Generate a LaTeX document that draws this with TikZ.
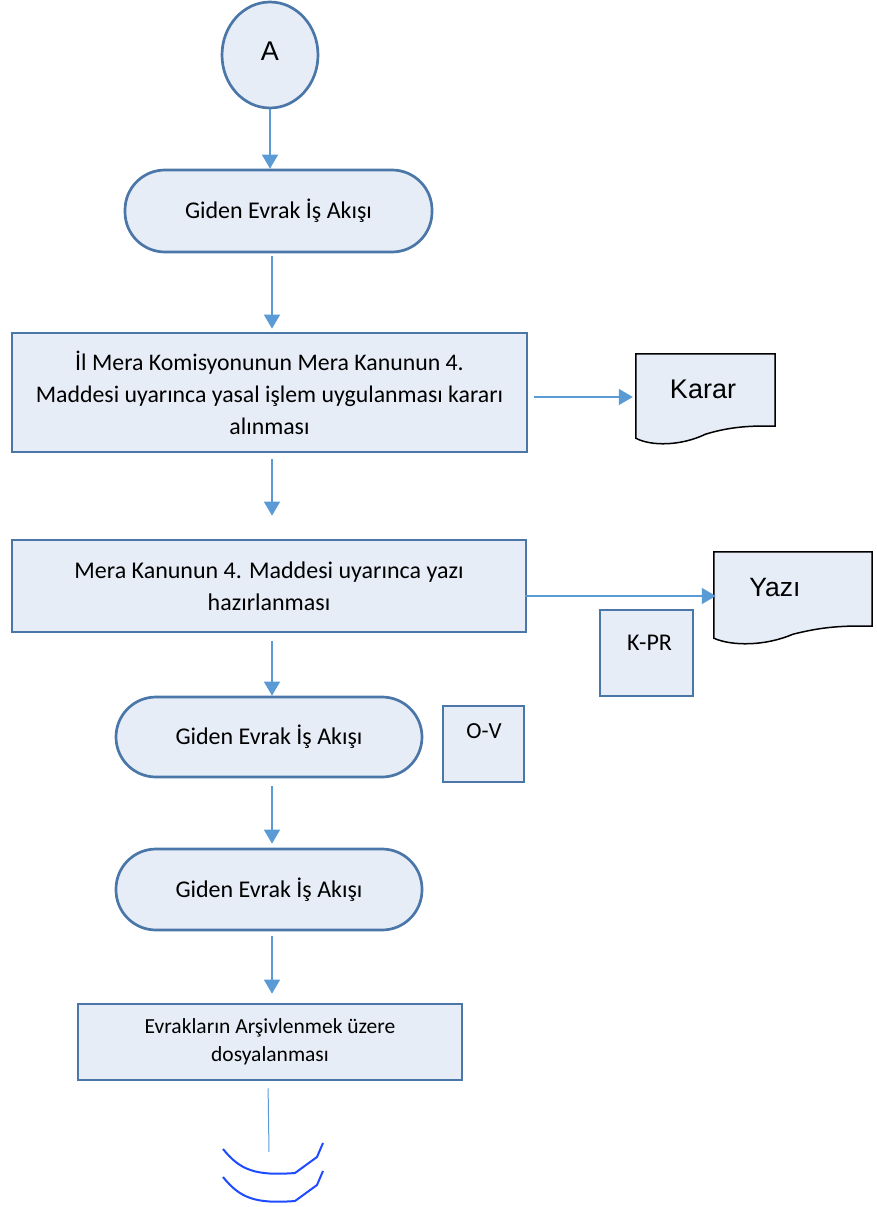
\documentclass[tikz,border=0pt]{standalone}
\usepackage{fontspec}
\setmainfont{Carlito}
\newfontfamily\arialf{Liberation Sans}
\usetikzlibrary{arrows.meta,calc,shapes.geometric}
\definecolor{fillb}{HTML}{E6EDF7}
\definecolor{edgeb}{HTML}{4A76A8}
\definecolor{arrb}{HTML}{5B9BD5}
\definecolor{curveb}{HTML}{1E4BFF}
\begin{document}
\begin{tikzpicture}[x=1pt,y=-1pt,
  boxst/.style={draw=edgeb,fill=fillb,line width=2.7pt,rectangle,align=center,inner sep=0pt},
  termst/.style={draw=edgeb,fill=fillb,line width=2.7pt,rectangle,rounded corners=40pt,inner sep=0pt,font=\fontsize{24}{28}\selectfont},
  docst/.style={rectangle,inner sep=0pt},
  flow/.style={draw=arrb,line width=1.5pt,-{Triangle[width=16pt,length=14pt]}},
  plain/.style={draw=arrb,line width=1.5pt}]
\useasboundingbox (0,0) rectangle (877,1207);
\coordinate (col) at (272,0);
\coordinate (col2) at (268,0);
% nodes
\node[draw=edgeb,fill=fillb,line width=2.7pt,ellipse,minimum width=96pt,minimum height=106pt,inner sep=0pt,font=\arialf\fontsize{27}{31}\selectfont] (a) at (270,55) {\raisebox{7pt}{A}};
\node[termst,minimum width=307pt,minimum height=82pt] (t1) at (278.5,211) {Giden Evrak İş Akışı};
\node[boxst,minimum width=515pt,minimum height=119pt,font=\fontsize{23.8}{32}\selectfont] (b1) at (269.5,392.5) {İl Mera Komisyonunun Mera Kanunun 4.\\Maddesi uyarınca yasal işlem uygulanması kararı\\alınması};
\node[docst,minimum width=139pt,minimum height=86pt] (kar) at (705.5,397) {};
\coordinate (kart) at (703,389);
\node[boxst,minimum width=514pt,minimum height=92pt,font=\fontsize{24}{32}\selectfont] (b2) at (269,586) {Mera Kanunun 4. Maddesi uyarınca yazı\\hazırlanması};
\node[docst,minimum width=158pt,minimum height=88pt] (yaz) at (793,596) {};
\coordinate (yazt) at (775,588);
\node[boxst,minimum width=93pt,minimum height=86pt] (kpr) at (646.5,653) {};
\node[font=\fontsize{24}{28}\selectfont] (kprt) at (649.5,643) {K-PR};
\node[termst,minimum width=306pt,minimum height=80pt] (t2) at (269,737) {Giden Evrak İş Akışı};
\node[boxst,minimum width=81pt,minimum height=76pt] (ov) at (483.5,744) {};
\node[font=\fontsize{23}{27}\selectfont] (ovt) at (484,731) {O-V};
\node[termst,minimum width=306pt,minimum height=81pt] (t3) at (269,889.5) {Giden Evrak İş Akışı};
\node[boxst,minimum width=384pt,minimum height=76pt,font=\fontsize{21.5}{28}\selectfont] (b3) at (270,1042) {Evrakların Arşivlenmek üzere\\dosyalanması};
\coordinate (lend) at (269,1152);
% document shapes
\draw[black,line width=1.5pt,fill=fillb] (kar.north west) -- (kar.north east) -- ($(kar.south east)+(0,-14)$)
  .. controls ($(kar.south east)+(-30,-15)$) and ($(kar.south east)+(-50,-12)$) .. ($(kar.south)+(0,-6)$)
  .. controls ($(kar.south)+(-25,6)$) and ($(kar.south west)+(15,6)$) .. ($(kar.south west)+(0,-2)$) -- cycle;
\node[font=\arialf\fontsize{27}{31}\selectfont] (kartn) at (kart) {Karar};
\draw[black,line width=1.5pt,fill=fillb] (yaz.north west) -- (yaz.north east) -- ($(yaz.south east)+(0,-14)$)
  .. controls ($(yaz.south east)+(-35,-15)$) and ($(yaz.south east)+(-55,-12)$) .. ($(yaz.south)+(0,-6)$)
  .. controls ($(yaz.south)+(-28,6)$) and ($(yaz.south west)+(18,6)$) .. ($(yaz.south west)+(0,-2)$) -- cycle;
\node[font=\arialf\fontsize{26.5}{30}\selectfont] (yaztn) at (yazt) {Yazı};
% connectors
\draw[flow] (a.south) -- (a.south |- t1.north);
\draw[flow,shorten <=3pt,shorten >=3pt] (col |- t1.south) -- (col |- b1.north);
\draw[flow,shorten <=6pt,shorten >=23pt] (col |- b1.south) -- (col |- b2.north);
\draw[flow,shorten <=6pt,shorten >=3pt] (b1.east |- kar.west) -- (kar.west);
\draw[flow,shorten <=-2pt,shorten >=-2pt] (b2.east |- yaz.west) -- (yaz.west);
\draw[flow,shorten <=8pt] (col |- b2.south) -- (col |- t2.north);
\draw[flow,shorten <=8pt,shorten >=4pt] (col |- t2.south) -- (col |- t3.north);
\draw[flow,shorten <=5pt,shorten >=9pt] (col |- t3.south) -- (col |- b3.north);
\draw[plain,line width=1pt,shorten <=7pt] (col2 |- b3.south) -- (lend);
% bottom curves
\foreach \dy in {0,28}{
  \draw[curveb,line width=2pt,line join=round] (223,1149+\dy) .. controls (240,1170+\dy) and (255,1176+\dy) .. (295,1173+\dy) -- (317,1157+\dy) -- (323,1143+\dy);
}
\end{tikzpicture}
\end{document}
